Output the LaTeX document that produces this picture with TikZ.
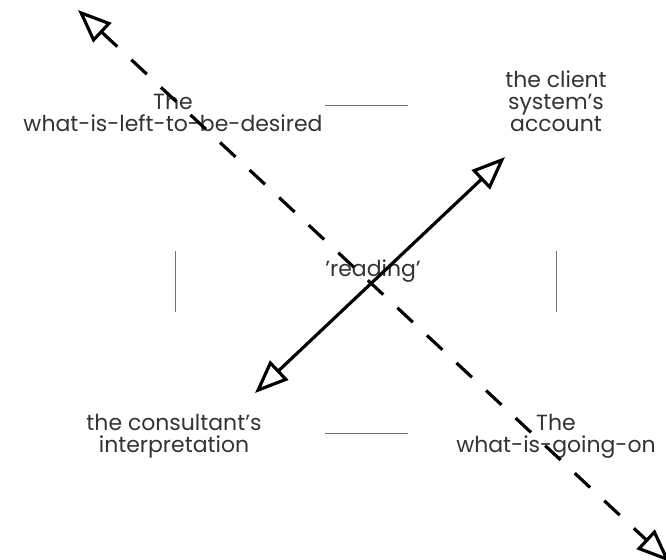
\documentclass[tikz,border=0pt]{standalone}
\usepackage{fontspec}
\setmainfont{Poppins}
\usepackage{tikz}
\usetikzlibrary{arrows.meta}

\tikzset{
    label text/.style={align=center, font=\fontsize{12.5}{12.5}\selectfont, text=black!80, inner sep=0pt},
    open tip/.style={{Triangle[open, length=19pt, width=15pt, line width=1.8pt]}-{Triangle[open, length=19pt, width=15pt, line width=1.8pt]}},
    thin rule/.style={black!55, line width=0.5pt}
}

\begin{document}
\begin{tikzpicture}[x=0.02cm, y=-0.02cm]
    \useasboundingbox (0,0) rectangle (666,559);
    % end points of the two axes
    \coordinate (desired) at (78,10);
    \coordinate (goingon) at (670,562);
    \coordinate (account) at (505,157);
    \coordinate (interp) at (255,393);
    % the four corners
    \node[label text] (tl) at (173,112) {The\\what-is-left-to-be-desired};
    \node[label text] (tr) at (556,101) {the client\\system's\\account};
    \node[label text] (bl) at (174,436) {the consultant's\\interpretation};
    \node[label text] (br) at (556,436) {The\\what-is-going-on};
    \node[label text] (reading) at (373,271) {'reading'};
    % rules between the corners
    \coordinate (topA) at (325,105);  \coordinate (topB) at (408,105);
    \coordinate (botA) at (325,433);  \coordinate (botB) at (408,433);
    \coordinate (lefA) at (175,251);  \coordinate (lefB) at (175,312);
    \coordinate (rigA) at (556,251);  \coordinate (rigB) at (556,312);
    \draw[thin rule] (topA) -- (topB);
    \draw[thin rule] (botA) -- (botB);
    \draw[thin rule] (lefA) -- (lefB);
    \draw[thin rule] (rigA) -- (rigB);
    % arrows
    \draw[open tip, line width=1.8pt, dash pattern=on 12pt off 11pt] (desired) -- (goingon);
    \draw[open tip, line width=1.8pt] (account) -- (interp);
\end{tikzpicture}
\end{document}
